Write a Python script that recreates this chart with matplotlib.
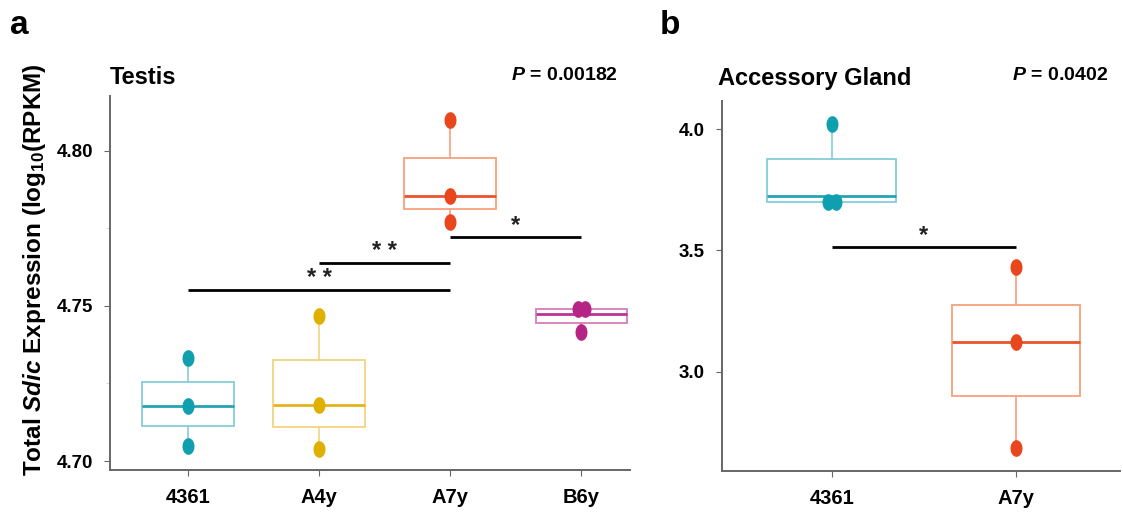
import matplotlib
matplotlib.use("Agg")
import matplotlib.pyplot as plt
from matplotlib.path import Path
import numpy as np

plt.rcParams['font.family'] = ['Liberation Sans', 'DejaVu Sans']
plt.rcParams['mathtext.fontset'] = 'custom'
plt.rcParams['mathtext.rm'] = 'Liberation Sans'
plt.rcParams['mathtext.it'] = 'Liberation Sans:italic'
plt.rcParams['mathtext.bf'] = 'Liberation Sans:bold'
plt.rcParams['mathtext.bfit'] = 'Liberation Sans:italic:bold'

# ---------------- data ----------------
testis_groups = ["4361", "A4y", "A7y", "B6y"]
testis_points = [
    [4.7333, 4.7177, 4.7048],
    [4.7469, 4.7181, 4.7040],
    [4.8101, 4.7853, 4.7772],
    [4.7490, 4.7490, 4.7416],
]
# box stats: (whislo, q1, med, q3, whishi)
testis_box = [
    (4.7048, 4.7113, 4.7177, 4.7255, 4.7333),
    (4.7040, 4.7111, 4.7181, 4.7325, 4.7469),
    (4.7772, 4.7813, 4.7853, 4.7977, 4.8101),
    (4.7416, 4.7444, 4.7473, 4.7489, 4.7490),
]
testis_p = "0.00182"
testis_sig = [  # (group i, group j, y, label)
    (0, 2, 4.7552, "* *"),
    (1, 2, 4.7638, "* *"),
    (2, 3, 4.7723, "*"),
]

gland_groups = ["4361", "A7y"]
gland_points = [
    [4.023, 3.698, 3.698],
    [3.433, 3.122, 2.684],
]
gland_box = [
    (3.698, 3.698, 3.724, 3.875, 4.023),
    (2.684, 2.901, 3.122, 3.276, 3.433),
]
gland_p = "0.0402"
gland_sig = [(0, 1, 3.512, "*")]

# colours per strain: (box edge, median, points)
colors = {
    "4361": ("#86cdd8", "#25a3b3", "#0f9fae"),
    "A4y": ("#f3d47e", "#e3b41c", "#e0b000"),
    "A7y": ("#f7a07c", "#e9532a", "#e8461c"),
    "B6y": ("#d77dbd", "#bd3297", "#b52585"),
}
# point x-offsets for overlapping dots (layout only)
testis_dx = [[0, 0, 0], [0, 0, 0], [0, 0, 0], [-0.03, 0.03, 0]]
gland_dx = [[0, -0.022, 0.022], [0, 0, 0]]

# tall elliptical marker
_t = np.linspace(0, 2 * np.pi, 41)
ellipse = Path(np.column_stack([0.72 * np.cos(_t), np.sin(_t)]), closed=True)

fig = plt.figure(figsize=(11.23, 5.14), dpi=100)

def draw_panel(ax, groups, points, boxes, dxs, sig):
    stats = []
    for g, b in zip(groups, boxes):
        stats.append(dict(whislo=b[0], q1=b[1], med=b[2], q3=b[3], whishi=b[4], fliers=[], label=g))
    pos = np.arange(len(groups))
    for i, (g, s) in enumerate(zip(groups, stats)):
        edge, med, pt = colors[g]
        ax.bxp([s], positions=[pos[i]], widths=0.7, showcaps=False, showfliers=False,
               patch_artist=True,
               boxprops=dict(facecolor="white", edgecolor=edge, linewidth=1.3),
               whiskerprops=dict(color=edge, linewidth=1.2),
               medianprops=dict(color=med, linewidth=2.0),
               zorder=2)
        ax.plot(pos[i] + np.array(dxs[i]), points[i], linestyle="none", marker=ellipse,
                markersize=12, color=pt, markeredgewidth=0, zorder=3)
    for (i, j, y, lab) in sig:
        ax.plot([pos[i], pos[j]], [y, y], color="black", linewidth=2.0, zorder=4,
                solid_capstyle="butt")
        ax.text((pos[i] + pos[j]) / 2, y, lab, ha="center", va="bottom",
                fontsize=17, fontweight="bold", color="#222222")
    ax.set_xticks(pos)
    ax.set_xticklabels(groups, fontsize=14.5, fontweight="bold")
    for s in ["top", "right"]:
        ax.spines[s].set_visible(False)
    for s in ["left", "bottom"]:
        ax.spines[s].set_color("#666666")
        ax.spines[s].set_linewidth(1.4)
    ax.tick_params(axis="x", length=4, color="#666666", pad=9)
    ax.tick_params(axis="y", length=4, color="#666666", labelsize=13.5, pad=8)

# ---- panel a ----
ax1 = fig.add_axes([110/1123, 44/514, 520/1123, 374/514])
draw_panel(ax1, testis_groups, testis_points, testis_box, testis_dx, testis_sig)
ax1.set_xlim(-0.595, 3.37)
ax1.set_ylim(4.6971, 4.8177)
ax1.set_yticks([4.70, 4.75, 4.80])
ax1.set_yticks([4.725, 4.775], minor=True)
ax1.tick_params(axis="y", which="minor", length=3, color="#c8d4e0")
ax1.set_yticklabels(["4.70", "4.75", "4.80"], fontweight="bold", fontsize=13.5)

# ---- panel b ----
ax2 = fig.add_axes([721.7/1123, 43.3/514, 398/1123, 370/514])
draw_panel(ax2, gland_groups, gland_points, gland_box, gland_dx, gland_sig)
ax2.set_xlim(-0.598, 1.563)
ax2.set_ylim(2.592, 4.117)
ax2.set_yticks([3.0, 3.5, 4.0])
ax2.set_yticklabels(["3.0", "3.5", "4.0"], fontweight="bold", fontsize=13.5)

# titles
fig.text(110/1123, 1 - 78/514, "Testis", fontsize=17, fontweight="bold", va="center", ha="left")
fig.text(618/1123, 1 - 75/514, r"$\bfit{P}$" + " = " + testis_p, fontsize=14, fontweight="bold",
         va="center", ha="right")
fig.text(718/1123, 1 - 78/514, "Accessory Gland", fontsize=17, fontweight="bold", va="center", ha="left")
fig.text(1108/1123, 1 - 75/514, r"$\bfit{P}$" + " = " + gland_p, fontsize=14, fontweight="bold",
         va="center", ha="right")

# panel letters
fig.text(10/1123, 1 - 25/514, "a", fontsize=24, fontweight="bold", va="center", ha="left")
fig.text(660/1123, 1 - 25/514, "b", fontsize=24, fontweight="bold", va="center", ha="left")

# y label
fig.text(35/1123, 1 - 270/514, r"Total $\bfit{Sdic}$ Expression (log$_{\mathbf{10}}$(RPKM)",
         rotation=90, fontsize=17.5, fontweight="bold", va="center", ha="center")

fig.savefig("out.png", dpi=100)
